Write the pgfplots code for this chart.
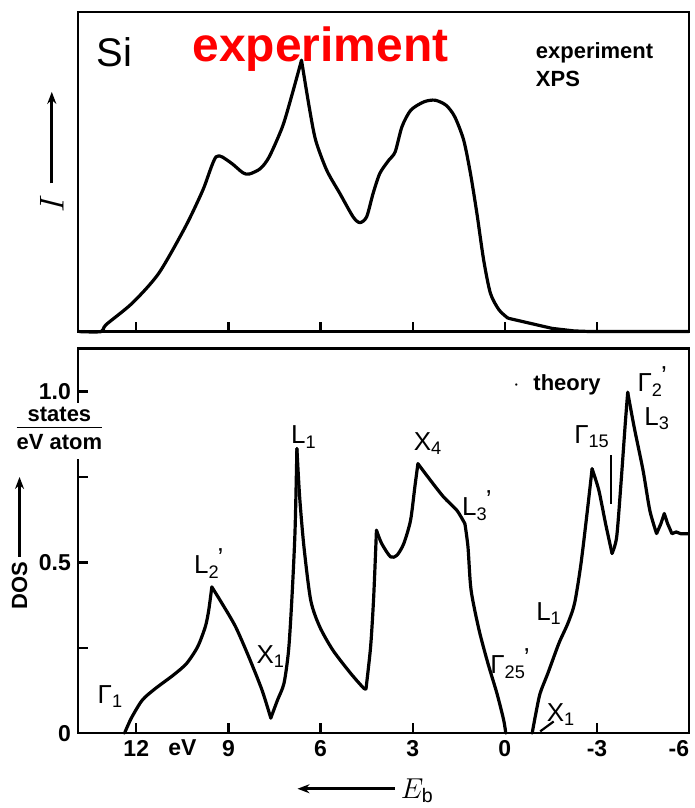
\documentclass[border=0pt]{standalone}
\usepackage{fontspec}
\setmainfont{Liberation Sans}
\usepackage{pgfplots}
\pgfplotsset{compat=1.18}
\usetikzlibrary{arrows.meta}
\newcommand{\sym}[3]{#1\textsubscript{#2}\kern-1pt\raisebox{0.55ex}{#3}}
\begin{document}
\begin{tikzpicture}
\useasboundingbox (-39pt,-238.5pt) rectangle (308.5pt,166pt);
\pgfplotsset{
  curve/.style={black, line width=1.6pt, mark=none, smooth, tension=0.45, line cap=round, line join=round},
  common/.style={scale only axis, width=306pt, x dir=reverse, xmin=-6, xmax=13.9,
    tick align=inside, xtick pos=bottom, ytick pos=left, major tick length=5pt,
    axis line style={line width=1.3pt},
    every tick/.style={black, line width=1.2pt}, clip=false,
    tick label style={font=\bfseries\fontsize{11.5}{11.5}\selectfont}},
}
% ---------------- top: experiment ----------------
\begin{axis}[common, name=top, at={(0,0)}, anchor=south west, height=160pt,
  ymin=0, ymax=1, xtick={12,9,6,3,0,-3}, xticklabel=\empty, ytick=\empty]
\addplot[curve] coordinates {(13.86,0) (13.14,0) (12.99,0.021) (12.13,0.089) (11.27,0.182) (10.40,0.328) (9.83,0.443) (9.40,0.547) (8.96,0.531) (8.53,0.497) (8.32,0.493) (7.96,0.510) (7.67,0.547) (7.24,0.641) (6.95,0.734) (6.62,0.849)};
\addplot[curve] coordinates {(6.62,0.849) (6.37,0.703) (6.16,0.599) (5.80,0.505) (5.37,0.432) (4.94,0.359) (4.72,0.341) (4.50,0.359) (4.29,0.432) (4.07,0.495) (3.78,0.536) (3.57,0.5625) (3.35,0.641) (3.06,0.693) (2.63,0.719) (2.27,0.724) (1.91,0.708) (1.63,0.672) (1.34,0.599) (1.12,0.495) (0.91,0.370) (0.69,0.224) (0.47,0.120) (0.19,0.068) (-0.10,0.042)};
\addplot[black, line width=1.6pt, mark=none] coordinates {(-0.10,0.042) (-0.82,0.026) (-1.54,0.010) (-2.26,0.002) (-2.83,0) (-6,0)};
\node[font=\fontsize{20}{20}\selectfont] at (axis cs:12.7,0.875) {Si};
\node[text=red, font=\bfseries\fontsize{24}{24}\selectfont] at (axis cs:6.0,0.885) {experiment};
\node[anchor=north west, align=left, inner sep=0pt, font=\bfseries\fontsize{11}{14}\selectfont] at (axis cs:-1.0,0.905) {experiment\\XPS};
\draw[-{Stealth[length=6pt]}, line width=1.5pt] (axis cs:14.75,0.464) -- (axis cs:14.75,0.75);
\node[rotate=90, font=\fontsize{16}{16}\selectfont] at (axis cs:14.75,0.40) {$I$};
\end{axis}
% ---------------- bottom: theory ----------------
\begin{axis}[common, name=bot, at={(0,-8.5pt)}, anchor=north west, height=192.5pt,
  ymin=0, ymax=1.126, xtick={12,9,6,3,0,-3,-6}, xticklabels={12,9,6,3,0,-3,\llap{-6}},
  ytick={0,0.25,0.5,0.75,1}, yticklabels={0,,0.5,,1.0}]
\addplot[curve] coordinates {(12.38,0) (12.16,0.044) (11.80,0.097) (11.37,0.131) (10.79,0.170) (10.36,0.204) (10.00,0.253) (9.75,0.312) (9.64,0.360) (9.54,0.428)};
\addplot[curve] coordinates {(9.54,0.428) (9.21,0.380) (8.77,0.312) (8.34,0.224) (7.91,0.127) (7.62,0.044)};
\addplot[curve] coordinates {(7.62,0.044) (7.40,0.097) (7.19,0.146) (7.04,0.243) (6.93,0.399) (6.83,0.594) (6.77,0.833)};
\addplot[curve] coordinates {(6.77,0.833) (6.68,0.691) (6.54,0.545) (6.32,0.389) (6.03,0.312) (5.60,0.243) (5.02,0.175) (4.59,0.131) (4.52,0.130)};
\addplot[curve] coordinates {(4.52,0.130) (4.37,0.253) (4.27,0.399) (4.18,0.594)};
\addplot[curve] coordinates {(4.18,0.594) (4.01,0.555) (3.72,0.516) (3.51,0.521) (3.29,0.555) (3.07,0.623) (2.93,0.721) (2.83,0.789)};
\addplot[curve] coordinates {(2.83,0.789) (2.42,0.740) (1.99,0.691) (1.56,0.652) (1.30,0.613)};
\addplot[curve] coordinates {(1.30,0.613) (1.20,0.545) (1.10,0.419) (0.84,0.302) (0.55,0.204) (0.26,0.117) (0.04,0.039) (-0.03,0)};
\addplot[curve] coordinates {(-0.89,0) (-1.01,0.058) (-1.15,0.117) (-1.40,0.175) (-1.76,0.263) (-2.05,0.321) (-2.27,0.380) (-2.48,0.497) (-2.70,0.662) (-2.84,0.774)};
\addplot[curve] coordinates {(-2.84,0.774) (-3.06,0.711) (-3.28,0.613) (-3.49,0.526)};
\addplot[curve] coordinates {(-3.49,0.526) (-3.64,0.574) (-3.78,0.730) (-3.92,0.906) (-4.00,0.998)};
\addplot[curve] coordinates {(-4.00,0.998) (-4.21,0.896) (-4.50,0.769) (-4.72,0.652) (-4.94,0.584)};
\addplot[black, line width=1.6pt, mark=none, line join=round] coordinates {(-4.94,0.584) (-5.08,0.613) (-5.19,0.643) (-5.30,0.613) (-5.44,0.584) (-5.58,0.589) (-5.72,0.584) (-6,0.584)};
% labels
\begin{scope}[font=\fontsize{13}{13}\selectfont]
\node at (axis cs:12.84,0.107) {Γ\textsubscript{1}};
\node at (axis cs:9.64,0.497) {\sym{L}{2}{'}};
\node at (axis cs:7.62,0.224) {X\textsubscript{1}};
\node at (axis cs:6.54,0.867) {L\textsubscript{1}};
\node at (axis cs:2.50,0.847) {X\textsubscript{4}};
\node at (axis cs:0.91,0.667) {\sym{L}{3}{'}};
\node at (axis cs:-0.17,0.204) {\sym{Γ}{25}{'}};
\node at (axis cs:-1.83,0.054) {X\textsubscript{1}};
\node at (axis cs:-1.44,0.35) {L\textsubscript{1}};
\node at (axis cs:-2.84,0.867) {Γ\textsubscript{15}};
\node at (axis cs:-4.80,1.03) {\sym{Γ}{2}{'}};
\node at (axis cs:-4.96,0.92) {L\textsubscript{3}};
\end{scope}
\draw[line width=1.1pt] (axis cs:-1.15,0.005) -- (axis cs:-1.59,0.034);
\draw[line width=1.3pt] (axis cs:-3.46,0.813) -- (axis cs:-3.46,0.672);
\node[anchor=west, font=\bfseries\fontsize{11}{11}\selectfont] at (axis cs:-0.05,1.02) {$\cdot$\hspace{7pt}theory};
\node[anchor=north, font=\bfseries\fontsize{11.5}{11.5}\selectfont] at (axis cs:10.5,0) {eV};
\draw[{Stealth[length=6pt]}-, line width=1.5pt] (axis cs:6.75,-0.163) -- (axis cs:3.58,-0.163);
\node[font=\fontsize{14}{14}\selectfont] at (axis cs:2.85,-0.168) {$E_\mathrm{b}$};
\node[fill=white, inner sep=1pt, font=\bfseries\fontsize{11}{12}\selectfont] at (axis cs:14.5,0.885)
  {\begin{tabular}{@{}c@{}}states\\[-1pt]\hline\rule{0pt}{11pt}eV atom\end{tabular}};
\draw[-{Stealth[length=6pt]}, line width=1.5pt] (axis cs:15.8,0.516) -- (axis cs:15.8,0.75);
\node[rotate=90, font=\bfseries\fontsize{11}{11}\selectfont] at (axis cs:15.8,0.431) {DOS};
\end{axis}
\end{tikzpicture}
\end{document}
